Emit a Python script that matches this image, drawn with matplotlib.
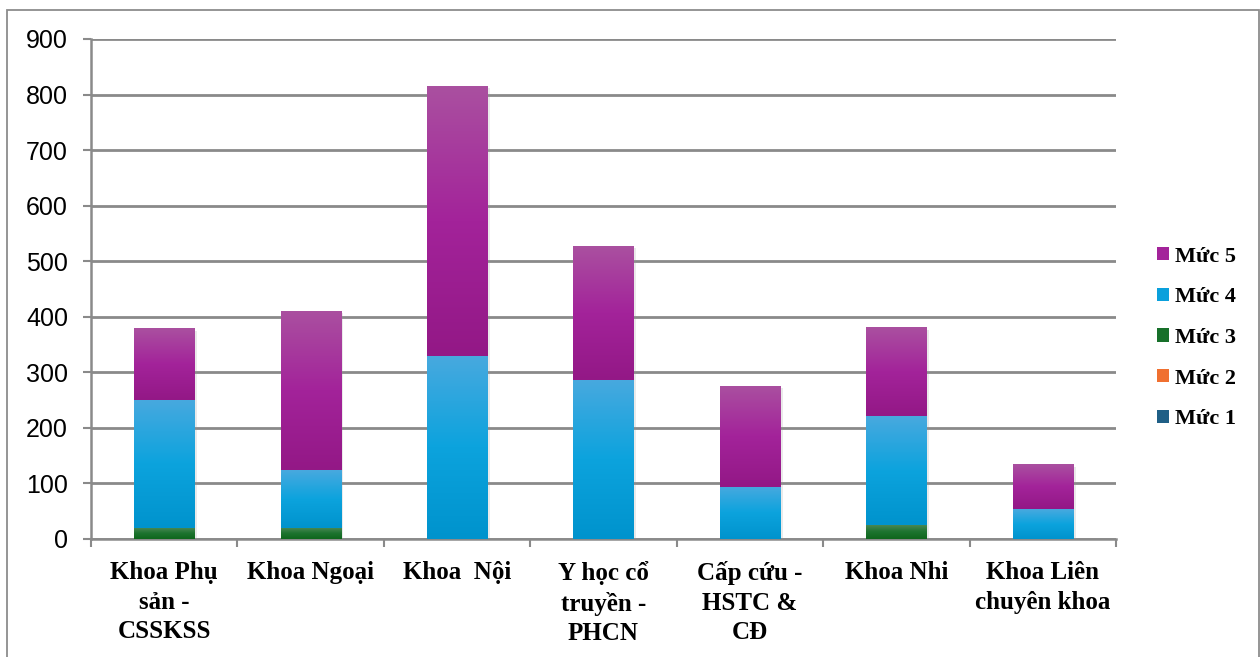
import numpy as np
import matplotlib
matplotlib.use("Agg")
import matplotlib.pyplot as plt
from matplotlib.patches import Rectangle, Patch
from matplotlib.colors import LinearSegmentedColormap
import matplotlib.patheffects as pe

categories = ["Khoa Phụ\nsản -\nCSSKSS", "Khoa Ngoại", "Khoa  Nội",
              "Y học cổ\ntruyền -\nPHCN", "Cấp cứu -\nHSTC &\nCĐ",
              "Khoa Nhi", "Khoa Liên\nchuyên khoa"]
muc1 = [0, 0, 0, 0, 0, 0, 0]
muc2 = [0, 0, 0, 0, 0, 0, 0]
muc3 = [20, 20, 0, 0, 0, 26, 0]
muc4 = [231, 104, 330, 287, 94, 196, 54]
muc5 = [128, 287, 486, 241, 182, 160, 81]
series_names = ["Mức 1", "Mức 2", "Mức 3", "Mức 4", "Mức 5"]
yticks = [0, 100, 200, 300, 400, 500, 600, 700, 800, 900]

base_colors = ["#1F5F86", "#F07030", "#17702A", "#0AA0DC", "#A3239A"]
gradients = [
    ["#3A7CA5", "#1F5F86", "#154D70"],
    ["#F59060", "#F07030", "#D95F20"],
    ["#4E8A58", "#1E7430", "#0E661C"],
    ["#48A9DF", "#0CA3DD", "#0093CD"],
    ["#AA50A0", "#A3239A", "#931886"],
]

W, H = 1260, 657
fig = plt.figure(figsize=(W / 100, H / 100), dpi=100)
ax = fig.add_axes([91 / W, (H - 539) / H, (1116 - 91) / W, 500 / H])

x = np.arange(len(categories))
width = 0.41
bottom = np.zeros(len(categories))
data = [muc1, muc2, muc3, muc4, muc5]
grad = np.linspace(0, 1, 256).reshape(-1, 1)
for vals, col, gcols in zip(data, base_colors, gradients):
    vals = np.array(vals, dtype=float)
    bars = ax.bar(x, vals, width, bottom=bottom, color=col, zorder=3,
                  linewidth=0)
    cmap = LinearSegmentedColormap.from_list("g", gcols)
    for b in bars:
        if b.get_height() <= 0:
            continue
        b.set_path_effects([pe.SimplePatchShadow(offset=(2, -2), shadow_rgbFace="#999999", alpha=0.2), pe.Normal()])
        bx, by = b.get_x(), b.get_y()
        bw, bh = b.get_width(), b.get_height()
        im = ax.imshow(grad, cmap=cmap, aspect="auto", origin="upper",
                       extent=[bx, bx + bw, by, by + bh], zorder=3.5,
                       interpolation="bilinear")
        im.set_clip_path(b)
    bottom += vals

ax.set_xlim(-0.5, len(categories) - 0.5)
ax.set_ylim(0, 900)
ax.set_yticks(yticks)
ax.set_yticklabels([str(v) for v in yticks], fontsize=18,
                   family=["Liberation Sans", "DejaVu Sans"])
ax.yaxis.grid(True, color="#8A8A8A", linewidth=2.0, zorder=1)
ax.set_axisbelow(True)

ax.set_xticks(np.arange(len(categories) + 1) - 0.5)
ax.set_xticklabels([])
ax.set_xticks(x, minor=True)
ax.set_xticklabels(categories, minor=True, fontsize=18, fontweight="bold",
                   family=["Liberation Serif", "DejaVu Serif"],
                   linespacing=1.35, va="top")
ax.tick_params(axis="x", which="minor", length=0, pad=16)
ax.tick_params(axis="x", which="major", length=5.5, width=1.5, color="#8A8A8A")
ax.tick_params(axis="y", length=5.5, width=1.5, color="#8A8A8A", pad=11)

for s in ["top", "right"]:
    ax.spines[s].set_visible(False)
for s in ["left", "bottom"]:
    ax.spines[s].set_color("#8A8A8A")
    ax.spines[s].set_linewidth(1.8)

handles = [Patch(facecolor=c, edgecolor="none") for c in base_colors]
leg = ax.legend(handles[::-1], series_names[::-1], loc="center left",
                bbox_to_anchor=(1.02, 0.402), frameon=False,
                prop={"family": ["Liberation Serif", "DejaVu Serif"],
                      "weight": "bold", "size": 16},
                handlelength=0.55, handleheight=0.55, handletextpad=0.3,
                labelspacing=0.93)

fig.add_artist(Rectangle((7 / W, -0.01), (1259 - 7) / W, (H - 10) / H + 0.01,
                         transform=fig.transFigure, fill=False,
                         edgecolor="#8C8C8C", linewidth=1.3))

fig.savefig("out.png", dpi=100, facecolor="white")
